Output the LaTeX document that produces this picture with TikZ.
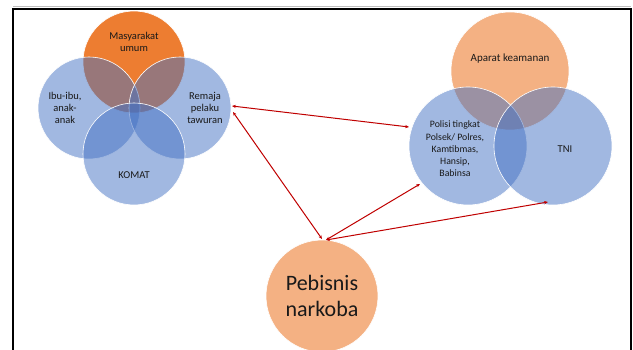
\documentclass[tikz,border=0pt]{standalone}
\usepackage{fontspec}
\setmainfont{Carlito}
\usetikzlibrary{arrows.meta}
\definecolor{vblue}{HTML}{4472C4}
\definecolor{vorange}{HTML}{ED7D31}
\definecolor{lorange}{HTML}{F4B183}
\definecolor{arrred}{HTML}{C00000}
\begin{document}
\begin{tikzpicture}[x=1pt,y=-1pt,
  bluec/.style={circle,fill=vblue,fill opacity=0.5,draw=white,line width=0.6pt,text opacity=1,inner sep=0pt},
  orac/.style={circle,draw=white,line width=0.6pt,inner sep=0pt},
  lbl/.style={font=\fontsize{10.5}{12.3}\selectfont,align=center,text=black!90},
  conn/.style={arrred,line width=1pt,{Stealth[length=3.8pt,width=3.2pt]}-{Stealth[length=3.8pt,width=3.2pt]}}]
\useasboundingbox (0,0) rectangle (633,350);
\fill[white] (0,0) rectangle (633,350);
\draw[black!25,line width=1pt] (13,7) -- (631,7);
\draw[black,line width=1.7pt] (13,370) -- (13,9) -- (631,9) -- (631,370);
% left group
\node[orac,fill=vorange,minimum size=102pt] (mas) at (134,62) {};
\node[bluec,minimum size=102pt] (ibu) at (89,108) {};
\node[bluec,minimum size=102pt] (rem) at (180,108) {};
\node[bluec,minimum size=102pt] (kom) at (134,154) {};
\node[lbl] at (134,42) {Masyarakat\\umum};
\node[lbl] at (65,108) {Ibu-ibu,\\anak-\\anak};
\node[lbl] at (205,108) {Remaja\\pelaku\\tawuran};
\node[lbl] at (134,175) {KOMAT};
% right group
\node[orac,fill=lorange,minimum size=118pt] (apa) at (510,71) {};
\node[bluec,minimum size=118pt] (pol) at (468,146) {};
\node[bluec,minimum size=118pt] (tni) at (553,146) {};
\node[lbl,font=\fontsize{11}{13}\selectfont] at (510,59) {Aparat keamanan};
\node[lbl,font=\fontsize{9.8}{12.2}\selectfont] at (455,149) {Polisi tingkat\\Polsek/ Polres,\\Kamtibmas,\\Hansip,\\Babinsa};
\node[lbl] at (565,149) {TNI};
% bottom
\node[orac,fill=lorange,minimum size=112pt] (peb) at (322,296) {};
\node[font=\fontsize{22}{26}\selectfont,align=center,text=black!90] at (322,296) {Pebisnis\\narkoba};
% arrows
\coordinate (r1) at (232,106);
\coordinate (r2) at (233,112);
\coordinate (p1) at (409,127);
\coordinate (p2) at (420,184);
\coordinate (t1) at (548,202);
\coordinate (b1) at (322,239);
\coordinate (b2) at (326,240);
\draw[conn] (r1) -- (p1);
\draw[conn] (r2) -- (b1);
\draw[conn] (b2) -- (p2);
\draw[conn] (b2) -- (t1);
\end{tikzpicture}
\end{document}
